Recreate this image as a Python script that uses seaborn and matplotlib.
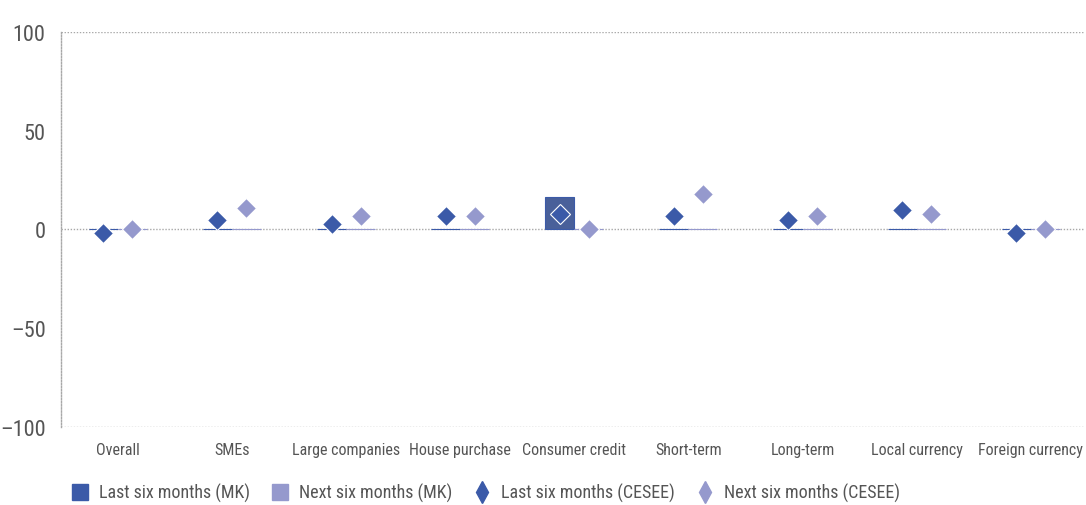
import matplotlib
matplotlib.use("Agg")
import matplotlib.pyplot as plt
from matplotlib.lines import Line2D
import pandas as pd
import seaborn as sns

# ------------------------------------------------------------------------------
# Data
# ------------------------------------------------------------------------------
CATEGORIES = ["Overall", "SMEs", "Large companies", "House purchase",
              "Consumer credit", "Short-term", "Long-term", "Local currency",
              "Foreign currency"]
LAST_MK = [0, 0, 0, 0, 16.5, 0, 0, 0, 0]
NEXT_MK = [0, 0, 0, 0, 0, 0, 0, 0, 0]
LAST_CESEE = [-2, 5, 3, 7, 8, 7, 5, 10, -2]
NEXT_CESEE = [0, 11, 7, 7, 0, 18, 7, 8, 0]
YTICKS = [-100, -50, 0, 50, 100]

LAST_LABEL_MK = "Last six months (MK)"
NEXT_LABEL_MK = "Next six months (MK)"
LAST_LABEL_CE = "Last six months (CESEE)"
NEXT_LABEL_CE = "Next six months (CESEE)"

DARK = "#3b5aa8"
LIGHT = "#9599cd"
TEXT = "#555555"
GRID = "#a8a8a8"

sns.set_theme(style="white")
plt.rcParams["font.family"] = ["Roboto Condensed", "Liberation Sans Narrow",
                               "Roboto", "DejaVu Sans"]

bars = pd.DataFrame({
    "cat": CATEGORIES * 2,
    "val": LAST_MK + NEXT_MK,
    "series": [LAST_LABEL_MK] * 9 + [NEXT_LABEL_MK] * 9,
})
pts = pd.DataFrame({
    "cat": CATEGORIES * 2,
    "val": LAST_CESEE + NEXT_CESEE,
    "series": [LAST_LABEL_CE] * 9 + [NEXT_LABEL_CE] * 9,
})

fig = plt.figure(figsize=(10.86, 5.06), dpi=100)
ax = fig.add_axes([0.056, 0.154, 0.943, 0.781])

sns.barplot(data=bars, x="cat", y="val", hue="series",
            palette=[DARK, LIGHT], width=0.51, gap=0,
            linewidth=0.8, edgecolor=None, legend=False, ax=ax, zorder=2)
for p, c in zip(ax.patches, [DARK] * 9 + [LIGHT] * 9):
  p.set_edgecolor(c)

sns.pointplot(data=pts, x="cat", y="val", hue="series",
              palette=[DARK, LIGHT], dodge=0.254, linestyle="none",
              markers="D", markersize=10.5, legend=False, ax=ax,
              errorbar=None)
for ln in ax.lines:
  ln.set_markeredgecolor("white")
  ln.set_markeredgewidth(0.8)
  ln.set_zorder(4)

ax.set_ylim(-100, 100)
ax.set_xlim(-0.5, 8.475)
ax.set_yticks(YTICKS)
ax.set_yticklabels([str(v).replace("-", "\u2013") for v in YTICKS])
for y in YTICKS[::2]:
  ax.axhline(y, color=GRID, lw=1, ls=(0, (1, 1.2)), zorder=1)
for s in ["top", "right", "bottom"]:
  ax.spines[s].set_visible(False)
ax.spines["left"].set_color(GRID)
ax.spines["left"].set_linestyle((0, (1, 1.2)))
ax.spines["left"].set_linewidth(1)
ax.set_xlabel("")
ax.set_ylabel("")
ax.tick_params(axis="y", labelsize=16, colors=TEXT, length=0, pad=11)
ax.tick_params(axis="x", labelsize=11.5, colors=TEXT, length=0, pad=11)

handles = [
    Line2D([], [], marker="s", ls="none", color=DARK, markersize=12),
    Line2D([], [], marker="s", ls="none", color=LIGHT, markersize=12),
    Line2D([], [], marker="d", ls="none", color=DARK, markersize=11),
    Line2D([], [], marker="d", ls="none", color=LIGHT, markersize=11),
]
fig.legend(handles, [LAST_LABEL_MK, NEXT_LABEL_MK, LAST_LABEL_CE, NEXT_LABEL_CE],
           loc="center left", bbox_to_anchor=(0.05, 0.024), ncol=4,
           frameon=False, fontsize=13, labelcolor=TEXT, handletextpad=0.5,
           columnspacing=1.1, handlelength=1.1)

fig.savefig("out.png", dpi=100)
